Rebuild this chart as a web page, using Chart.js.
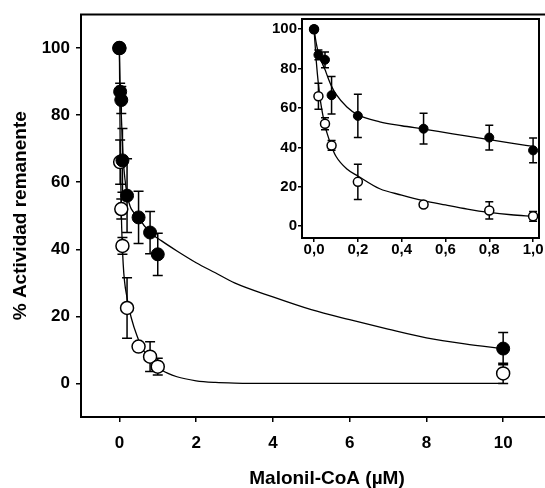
<!DOCTYPE html>
<html lang="es">
<head>
<meta charset="UTF-8">
<title>Actividad remanente - Malonil-CoA</title>
<script src="https://cdn.jsdelivr.net/npm/chart.js"></script>
<style>
  html, body { margin: 0; padding: 0; background: #fff; }
  #caja { position: relative; width: 545px; height: 488px; overflow: hidden; background: #fff; }
  #principal { position: absolute; left: 0; top: 0; }
  #inserto { position: absolute; left: 255px; top: 0; }
</style>
</head>
<body>
<div id="caja">
  <canvas id="principal" width="581" height="488"></canvas>
  <canvas id="inserto" width="290" height="262"></canvas>
</div>
<script>
// datos
var conc = [0, 0.02, 0.05, 0.08, 0.2, 0.5, 0.8, 1.0, 10];
var llenos = [100, 87, 84.5, 66.5, 56, 49.5, 45, 38.5, 10.4];
var llenosErr = [0, 2.5, 4, 9.5, 11, 7.8, 6.3, 6.3, 4.8];
var vacios = [100, 66, 52, 41, 22.5, 11, 8, 5, 3];
var vaciosErr = [0, 6.6, 3, 2.5, 9, 1, 4.4, 2.5, 3];

// curvas ajustadas del grafico principal (leidas punto a punto)
var curvaX = [0, 0.02, 0.05, 0.1, 0.2, 0.5, 0.8, 1.1, 1.5, 2, 2.5, 3, 4, 5, 6, 7, 8, 9, 10];
var curvaLlenos = [100, 88, 80, 67, 56.5, 49.5, 45, 42.5, 39.5, 36, 33, 30, 25.8, 22, 19, 16.2, 13.6, 11.8, 10.4];
var curvaVacios = [100, 72, 51, 35.5, 25.5, 13, 7, 4, 2, 0.8, 0.3, 0.1, 0, 0, 0, 0, 0, 0, 0];

// curvas del recuadro (0 - 1 uM)
var curvaXInserto = [0, 0.01, 0.02, 0.03, 0.04, 0.05, 0.06, 0.08, 0.1, 0.15, 0.2, 0.3, 0.4, 0.5, 0.6, 0.7, 0.8, 0.9, 1.0];
var curvaLlenosInserto = [100, 93, 88, 85, 82, 79.5, 76.5, 71, 67, 60.5, 56.5, 53, 51, 49.3, 47.5, 45.7, 44, 42.2, 40.5];
var curvaVaciosInserto = [100, 84, 72, 63, 56.5, 51, 47, 40.5, 35.5, 29, 25.5, 19, 15.8, 13, 10.8, 8.7, 7, 5.8, 5];

var ticksX = [0, 2, 4, 6, 8, 10];
var ticksY = [0, 20, 40, 60, 80, 100];
var ticksXInserto = [0, 0.2, 0.4, 0.6, 0.8, 1.0];
var ticksYInserto = [0, 20, 40, 60, 80, 100];

var fuente = "'Liberation Sans', Arial, sans-serif";

function pares(xs, ys, maxX) {
    var r = [];
    for (var i = 0; i < xs.length; i++) {
        if (xs[i] <= maxX) r.push({ x: xs[i], y: ys[i] });
    }
    return r;
}

var barrasError = {
    id: 'barrasError',
    beforeDatasetsDraw: function (chart, args, opts) {
        var ctx = chart.ctx, sx = chart.scales.x, sy = chart.scales.y;
        ctx.save();
        ctx.strokeStyle = '#000';
        ctx.lineWidth = opts.ancho;
        opts.series.forEach(function (s) {
            for (var i = 0; i < s.x.length; i++) {
                if (!s.err[i] || s.x[i] > sx.max) continue;
                var px = sx.getPixelForValue(s.x[i]);
                var y1 = sy.getPixelForValue(s.y[i] + s.err[i]);
                var y2 = sy.getPixelForValue(s.y[i] - s.err[i]);
                ctx.beginPath();
                ctx.moveTo(px, y1); ctx.lineTo(px, y2);
                ctx.moveTo(px - opts.tapa, y1); ctx.lineTo(px + opts.tapa, y1);
                ctx.moveTo(px - opts.tapa, y2); ctx.lineTo(px + opts.tapa, y2);
                ctx.stroke();
            }
        });
        ctx.restore();
    }
};

var marco = {
    id: 'marco',
    beforeDraw: function (chart, args, opts) {
        if (!opts.fondo) return;
        var a = chart.chartArea, ctx = chart.ctx;
        ctx.save();
        ctx.fillStyle = '#fff';
        ctx.fillRect(a.left - 42, a.top, a.right - a.left + 50, a.bottom - a.top + 24);
        ctx.restore();
    },
    afterDraw: function (chart) {
        var a = chart.chartArea, ctx = chart.ctx;
        ctx.save();
        ctx.strokeStyle = '#000';
        ctx.lineWidth = 2;
        ctx.strokeRect(a.left, a.top, a.right - a.left, a.bottom - a.top);
        ctx.restore();
    }
};

function datasets(maxX, radio, cx, cLlenos, cVacios) {
    return [
        { data: pares(conc, llenos, maxX), pointRadius: radio, pointBackgroundColor: '#000',
          pointBorderColor: '#000', pointBorderWidth: 1, showLine: false },
        { data: pares(conc, vacios, maxX), pointRadius: radio, pointBackgroundColor: '#fff',
          pointBorderColor: '#000', pointBorderWidth: 1.5, showLine: false },
        { data: pares(cx, cLlenos, maxX), pointRadius: 0, showLine: true, borderColor: '#000',
          borderWidth: 1.3, cubicInterpolationMode: 'monotone' },
        { data: pares(cx, cVacios, maxX), pointRadius: 0, showLine: true, borderColor: '#000',
          borderWidth: 1.3, cubicInterpolationMode: 'monotone' }
    ];
}

function ejes(cfg) {
    return {
        x: {
            type: 'linear', min: cfg.xmin, max: cfg.xmax,
            afterBuildTicks: function (s) { s.ticks = cfg.tx.map(function (v) { return { value: v }; }); },
            afterFit: function (s) { s.height = cfg.alto; },
            grid: { drawOnChartArea: false, tickLength: cfg.tick, color: '#000', lineWidth: 1.5 },
            border: { display: false },
            ticks: { color: '#000', autoSkip: false, maxRotation: 0, padding: cfg.padX,
                     font: { family: fuente, size: cfg.fs, weight: 'bold', lineHeight: 1 },
                     callback: cfg.fmtX },
            title: cfg.tituloX ? { display: true, text: cfg.tituloX, color: '#000', padding: 0,
                     font: { family: fuente, size: 19, weight: 'bold', lineHeight: 1 } } : { display: false }
        },
        y: {
            type: 'linear', min: cfg.ymin, max: cfg.ymax,
            afterBuildTicks: function (s) { s.ticks = cfg.ty.map(function (v) { return { value: v }; }); },
            afterFit: function (s) { s.width = cfg.ancho; },
            grid: { drawOnChartArea: false, tickLength: cfg.tick, color: '#000', lineWidth: 1.5 },
            border: { display: false },
            ticks: { color: '#000', autoSkip: false, padding: cfg.padY,
                     font: { family: fuente, size: cfg.fs, weight: 'bold', lineHeight: 1 } },
            title: cfg.tituloY ? { display: true, text: cfg.tituloY, color: '#000', padding: { top: 11, bottom: 0 },
                     font: { family: fuente, size: 19, weight: 'bold', lineHeight: 1 } } : { display: false }
        }
    };
}

new Chart(document.getElementById('principal'), {
    type: 'scatter',
    data: { datasets: datasets(100, 6.5, curvaX, curvaLlenos, curvaVacios) },
    options: {
        responsive: false, animation: false,
        layout: { padding: { top: 12, left: 0, right: 0, bottom: 0 } },
        scales: ejes({ xmin: -1, xmax: 11.82, ymin: -10, ymax: 110, tx: ticksX, ty: ticksY,
                       alto: 71, ancho: 81, tick: 5, fs: 17, padX: 13, padY: 6,
                       tituloX: 'Malonil-CoA (µM)', tituloY: '% Actividad remanente' }),
        plugins: {
            legend: { display: false }, tooltip: { enabled: false },
            barrasError: { ancho: 1.5, tapa: 5, series: [
                { x: conc, y: llenos, err: llenosErr },
                { x: conc, y: vacios, err: vaciosErr } ] },
            marco: { fondo: false }
        }
    },
    plugins: [barrasError, marco]
});

new Chart(document.getElementById('inserto'), {
    type: 'scatter',
    data: { datasets: datasets(1.0, 4.5, curvaXInserto, curvaLlenosInserto, curvaVaciosInserto) },
    options: {
        responsive: false, animation: false,
        layout: { padding: { top: 19, left: 0, right: 6, bottom: 0 } },
        scales: ejes({ xmin: -0.055, xmax: 1.027, ymin: -6, ymax: 105.2, tx: ticksXInserto, ty: ticksYInserto,
                       alto: 24, ancho: 47, tick: 4, fs: 15, padX: 0, padY: 1,
                       fmtX: function (v) { return v.toFixed(1).replace('.', ','); } }),
        plugins: {
            legend: { display: false }, tooltip: { enabled: false },
            barrasError: { ancho: 1.5, tapa: 4, series: [
                { x: conc, y: llenos, err: llenosErr },
                { x: conc, y: vacios, err: vaciosErr } ] },
            marco: { fondo: true }
        }
    },
    plugins: [barrasError, marco]
});
</script>
</body>
</html>
